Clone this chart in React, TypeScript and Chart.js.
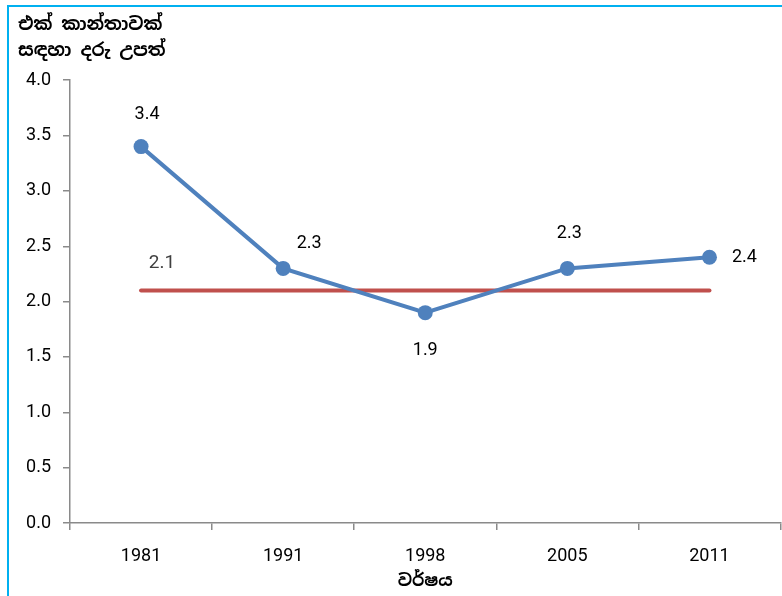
import React, { useEffect, useRef } from "react";
import { Chart, registerables } from "chart.js";

Chart.register(...registerables);

const years = ["1981", "1991", "1998", "2005", "2011"];
const birthsPerWoman = [3.4, 2.3, 1.9, 2.3, 2.4];
const replacementLevel = [2.1, 2.1, 2.1, 2.1, 2.1];
const yTitleLines = ["එක් කාන්තාවක්", "සඳහා දරු උපත්"];
const xTitle = "වර්ෂය";

const FONT = '"Liberation Sans Narrow", "Roboto", "Liberation Sans", sans-serif';
const SINHALA = '"Noto Sans Sinhala", "Noto Sans", sans-serif';
const AXIS = "#8a8a8a";

// offsets (px) of the value labels relative to their points
const blueLabelOffsets = [
  [6, -32],
  [26, -25],
  [0, 38],
  [2, -35],
  [35, 0],
];
const redLabelOffset = [21, -27];

const valueLabels = {
  id: "valueLabels",
  afterDatasetsDraw(chart: any) {
    const ctx = chart.ctx;
    ctx.save();
    ctx.font = `18px ${FONT}`;
    ctx.textAlign = "center";
    ctx.textBaseline = "middle";
    const blue = chart.getDatasetMeta(0);
    blue.data.forEach((pt: any, i: number) => {
      ctx.fillStyle = "#000";
      ctx.fillText(
        birthsPerWoman[i].toFixed(1),
        pt.x + blueLabelOffsets[i][0],
        pt.y + blueLabelOffsets[i][1]
      );
    });
    const red = chart.getDatasetMeta(1);
    const p = red.data[0];
    ctx.font = `19px ${FONT}`;
    ctx.fillStyle = "#404040";
    ctx.fillText(replacementLevel[0].toFixed(1), p.x + redLabelOffset[0], p.y + redLabelOffset[1]);
    ctx.restore();
  },
};

export default function App() {
  const ref = useRef<HTMLCanvasElement>(null);

  useEffect(() => {
    if (!ref.current) return;
    const chart = new Chart(ref.current, {
      type: "line",
      data: {
        labels: years,
        datasets: [
          {
            label: "births",
            data: birthsPerWoman,
            borderColor: "#4f81bd",
            backgroundColor: "#4f81bd",
            borderWidth: 4,
            pointRadius: 7.5,
            pointBorderWidth: 0,
            pointBackgroundColor: "#4f81bd",
            tension: 0,
          },
          {
            label: "replacement",
            data: replacementLevel,
            borderColor: "#c0504d",
            backgroundColor: "#c0504d",
            borderWidth: 4,
            borderCapStyle: "round",
            pointRadius: 0,
            tension: 0,
          },
        ],
      },
      options: {
        responsive: false,
        animation: false,
        devicePixelRatio: 1,
        layout: { padding: { left: 18, right: 0, top: 0, bottom: 0 } },
        plugins: {
          legend: { display: false },
          tooltip: { enabled: false },
          title: {
            display: true,
            text: yTitleLines,
            align: "start",
            color: "#000",
            font: { family: SINHALA, size: 18, weight: "bold", lineHeight: 1.45 },
            padding: { top: 12, bottom: 16 },
          },
        },
        scales: {
          x: {
            type: "category",
            offset: true,
            afterFit(scale: any) {
              scale.height = 73;
            },
            grid: {
              offset: true,
              drawOnChartArea: false,
              drawTicks: true,
              tickLength: 7,
              color: AXIS,
              lineWidth: 1.5,
            },
            border: { display: true, color: AXIS, width: 1.5 },
            ticks: {
              color: "#000",
              font: { family: FONT, size: 18 },
              padding: 16,
              maxRotation: 0,
            },
            title: {
              display: true,
              text: xTitle,
              color: "#000",
              font: { family: SINHALA, size: 17, weight: "bold", lineHeight: 1.2 },
              padding: { top: 0, bottom: 4 },
            },
          },
          y: {
            min: 0,
            max: 4,
            afterFit(scale: any) {
              scale.width = 52;
            },
            grid: {
              drawOnChartArea: false,
              drawTicks: true,
              tickLength: 7,
              color: AXIS,
              lineWidth: 1.5,
            },
            border: { display: true, color: AXIS, width: 1.5 },
            ticks: {
              stepSize: 0.5,
              color: "#000",
              font: { family: FONT, size: 18 },
              padding: 12,
              callback: (v: any) => Number(v).toFixed(1),
            },
          },
        },
      },
      plugins: [valueLabels],
    } as any);
    return () => chart.destroy();
  }, []);

  return (
    <div
      style={{
        position: "absolute",
        left: 0,
        top: 0,
        width: 782,
        height: 596,
        background: "#fff",
        overflow: "hidden",
      }}
    >
      <div
        style={{
          position: "absolute",
          left: 7,
          top: 5,
          width: 775,
          height: 591,
          boxSizing: "border-box",
          borderLeft: "2px solid #00b0f0",
          borderTop: "2px solid #00b0f0",
        }}
      />
      <canvas ref={ref} width={788} height={596} style={{ position: "absolute", left: 0, top: 0, display: "block" }} />
    </div>
  );
}
